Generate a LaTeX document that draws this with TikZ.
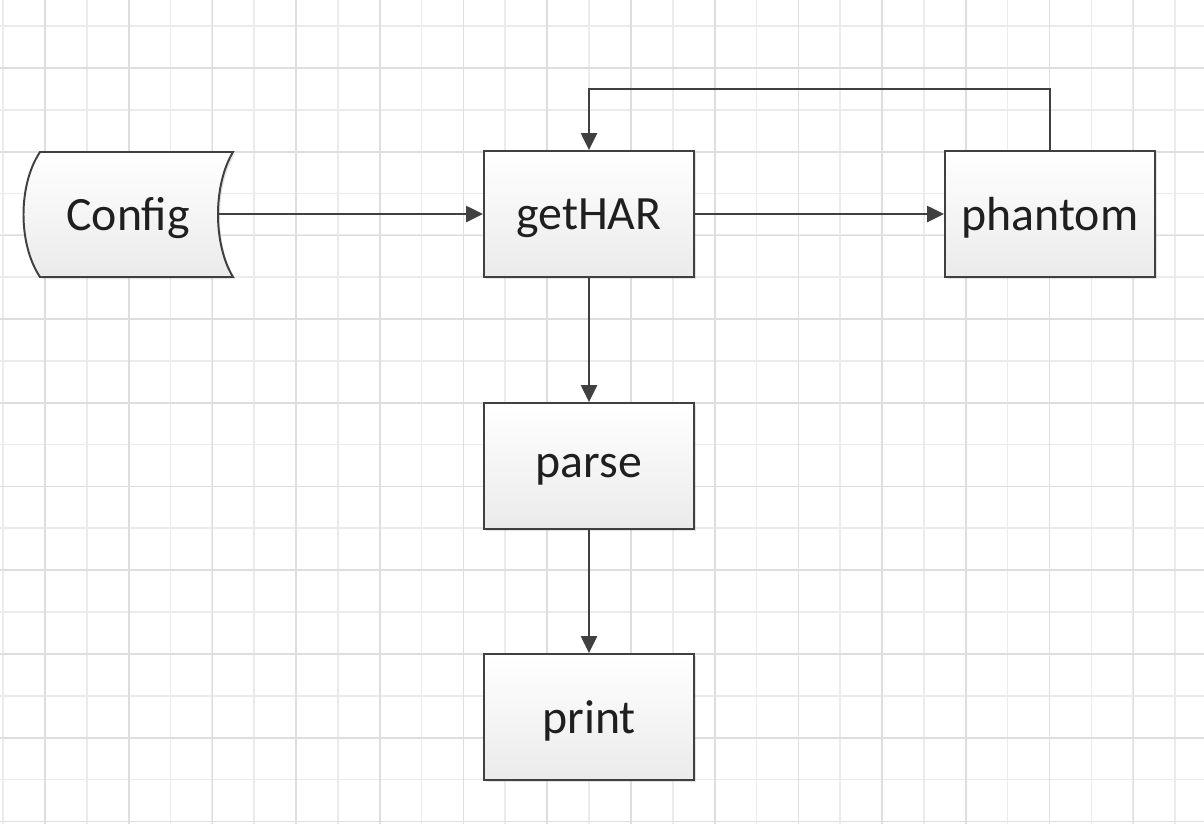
\documentclass[tikz,border=0pt]{standalone}
\usepackage{fontspec}
\setmainfont{Carlito}
\usepackage{tikz}
\usetikzlibrary{arrows.meta,shadows}

\begin{document}
\begin{tikzpicture}
	[x=0.025cm,y=-0.025cm,
	 minorline/.style={draw=black!8,line width=1.2pt},
	 majorline/.style={draw=black!13,line width=1.2pt},
	 stepbox/.style={draw=black!75,line width=1.4pt,top color=white,bottom color=black!8,
		minimum width=5.25cm,minimum height=3.15cm,inner sep=0pt,text=black!88,
		text depth=0pt,font=\fontsize{34}{40}\selectfont,
		drop shadow={shadow xshift=0.05cm,shadow yshift=-0.05cm,opacity=0.22}},
	 flow/.style={draw=black!75,line width=1.4pt,-{Triangle[length=0.42cm,width=0.4cm]}}]
\useasboundingbox (0,0) rectangle (1204,824);
% grid paper
\foreach \i in {0,...,28}
	\draw[minorline] ({3+41.86*\i},0) -- ({3+41.86*\i},824);
\foreach \i in {0,...,19}
	\draw[minorline] (0,{26+41.86*\i}) -- (1204,{26+41.86*\i});
\foreach \i in {0,...,13}
	\draw[majorline] ({45+83.72*\i},0) -- ({45+83.72*\i},824);
\foreach \i in {0,...,9}
	\draw[majorline] (0,{68+83.72*\i}) -- (1204,{68+83.72*\i});
% stored data shape for the config
\path[draw=black!75,line width=1.4pt,top color=white,bottom color=black!8,
	drop shadow={shadow xshift=0.05cm,shadow yshift=-0.05cm,opacity=0.22}]
	(40,152) -- (233,152) .. controls (213,185) and (213,244) .. (233,277)
	-- (40,277) .. controls (18,244) and (18,185) .. (40,152) -- cycle;
\node[minimum width=4.5cm,minimum height=3.15cm,inner sep=0pt,text=black!88,
	text depth=0pt,font=\fontsize{34}{40}\selectfont] (config) at (128,214) {Config};
% process boxes
\node[stepbox] (gethar) at (589,214) {getHAR};
\node[stepbox] (phantom) at (1050,214) {phantom};
\node[stepbox] (parse) at (589,466) {parse};
\node[stepbox] (print) at (589,717) {print};
% connectors
\draw[flow] (config.east) -- (gethar.west);
\draw[flow] (gethar.east) -- (phantom.west);
\draw[flow] (gethar.south) -- (parse.north);
\draw[flow] (parse.south) -- (print.north);
\draw[flow] (phantom.north) |- (1050,89) -| (gethar.north);
\end{tikzpicture}
\end{document}
